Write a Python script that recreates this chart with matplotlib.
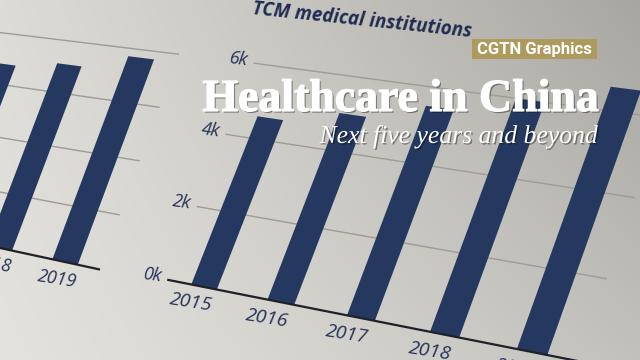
import numpy as np
import matplotlib
matplotlib.use("Agg")
import matplotlib.pyplot as plt
from matplotlib.transforms import Transform
from matplotlib.patches import Rectangle
import matplotlib.patheffects as pe

# ---------------- data ----------------
years = ["2015", "2016", "2017", "2018", "2019"]
tcm_values = [4.6, 5.0, 5.5, 6.0, 6.6]          # thousands
tick_values = [0, 2, 4, 6]
tick_labels = ["0k", "2k", "4k", "6k"]

left_years = ["2017", "2018", "2019"]
left_values = [3.4, 3.55, 3.85]
left_grid = [0, 1, 2, 3, 4]

W, H = 640, 360
NAVY = "#25385f"
TXT = "#27335a"


class Homography(Transform):
    input_dims = 2
    output_dims = 2
    is_separable = False
    has_inverse = False

    def __init__(self, M):
        super().__init__()
        self.M = np.asarray(M, float)

    def transform_non_affine(self, values):
        v = np.asarray(values, float).reshape(-1, 2)
        p = np.column_stack([v, np.ones(len(v))]) @ self.M.T
        return p[:, :2] / p[:, 2:3]


def fit_h(src, dst):
    A, b = [], []
    for (x, y), (u, v) in zip(src, dst):
        A.append([x, y, 1, 0, 0, 0, -u * x, -u * y]); b.append(u)
        A.append([0, 0, 0, x, y, 1, -v * x, -v * y]); b.append(v)
    h = np.linalg.solve(np.array(A, float), np.array(b, float))
    return np.append(h, 1).reshape(3, 3)


fig = plt.figure(figsize=(6.4, 3.6), dpi=100)
ax = fig.add_axes([0, 0, 1, 1])
ax.set_xlim(0, W)
ax.set_ylim(H, 0)
ax.set_autoscale_on(False)
ax.axis("off")

# background paper gradient
xx, yy = np.meshgrid(np.linspace(0, 1, 320), np.linspace(0, 1, 180))
t = xx * (0.6 + 0.4 * (1 - yy)) + 0.15 * (1 - xx) * (1 - yy)
t = np.clip(t, 0, 1) ** 1.15
light = np.array([0xe4, 0xe2, 0xdd]) / 255
dark = np.array([0xa7, 0xa6, 0xa1]) / 255
img = light[None, None, :] * (1 - t[..., None]) + dark[None, None, :] * t[..., None]
ax.imshow(img, extent=(0, W, H, 0), aspect="auto", zorder=0, interpolation="bilinear")

# ---------------- main chart ----------------
Hm = Homography(fit_h([(0, 0), (4, 0), (0, 6), (4, 6)],
                      [(204, 287), (532, 352), (290, 68), (617.5, 112)]))
Tm = Hm + ax.transData
xmin, xmax = -0.48, 4.5
for v in tick_values[1:]:
    ax.plot([xmin, xmax], [v, v], color="#9d9c97", lw=1.0, transform=Tm, zorder=2)
ax.plot([xmin, xmax], [0, 0], color="#1f2128", lw=1.6, transform=Tm, zorder=4)
xpos = np.arange(len(years))
ax.bar(xpos, tcm_values, width=0.34, color=NAVY, transform=Tm, zorder=3)

for v, lab in zip(tick_values, tick_labels):
    px, py = Hm.transform([[xmin - 0.21, v]])[0]
    ax.text(px, py - 2, lab, ha="center", va="center", fontsize=13,
            family="Open Sans", style="italic", color=TXT, rotation=-8, zorder=5)
for i, lab in enumerate(years):
    px, py = Hm.transform([[i - 0.09, -0.45]])[0]
    ax.text(px, py, lab, ha="center", va="center", fontsize=14,
            family="Open Sans", style="italic", color=TXT, rotation=-9, zorder=5)

ax.text(362, 21, "TCM medical institutions", ha="center", va="center",
        fontsize=13.5, family="Open Sans", weight="bold", style="italic",
        color="#1f2b52", rotation=-6, zorder=5)

# ---------------- left chart (partly out of frame) ----------------
Hl = Homography(fit_h([(0, 0), (1, 0), (0, 4), (1, 4)],
                      [(0, 248), (65, 262), (78, 42), (144, 50)]))
Tl = Hl + ax.transData
lxmin, lxmax = -3.0, 1.5
for v in left_grid[1:]:
    ax.plot([lxmin, lxmax], [v, v], color="#9d9c97", lw=1.0, transform=Tl, zorder=2)
ax.plot([lxmin, lxmax], [0, 0], color="#1f2128", lw=1.6, transform=Tl, zorder=4)
lpos = np.arange(len(left_years)) - 1
ax.bar(lpos, left_values, width=0.38, color=NAVY, transform=Tl, zorder=3)
for i, lab in zip(lpos, left_years):
    px, py = Hl.transform([[i - 0.02, -0.32]])[0]
    ax.text(px, py, lab, ha="center", va="center", fontsize=13,
            family="Open Sans", style="italic", color=TXT, rotation=-9, zorder=5)

# ---------------- overlay ----------------
ax.add_patch(Rectangle((472, 39), 125, 20, facecolor="#ad9a5c", edgecolor="none", zorder=6))
ax.text(534.5, 49.5, "CGTN Graphics", ha="center", va="center", fontsize=12,
        family="Roboto", weight="bold", color="white", zorder=7)

shadow_t = [pe.SimplePatchShadow(offset=(1.2, -1.2), shadow_rgbFace="black", alpha=0.4),
            pe.Stroke(linewidth=0.9, foreground="white"), pe.Normal()]
shadow_s = [pe.SimplePatchShadow(offset=(1.0, -1.0), shadow_rgbFace="black", alpha=0.4),
            pe.Normal()]
ax.text(600, 111, "Healthcare in China", ha="right", va="baseline", fontsize=33,
        family="Liberation Serif", weight="bold", color="white", zorder=7,
        path_effects=shadow_t)
ax.text(598, 143, "Next five years and beyond", ha="right", va="baseline", fontsize=18.5,
        family="Liberation Serif", style="italic", color="white", zorder=7,
        path_effects=shadow_s)

fig.savefig("out.png", dpi=100)
